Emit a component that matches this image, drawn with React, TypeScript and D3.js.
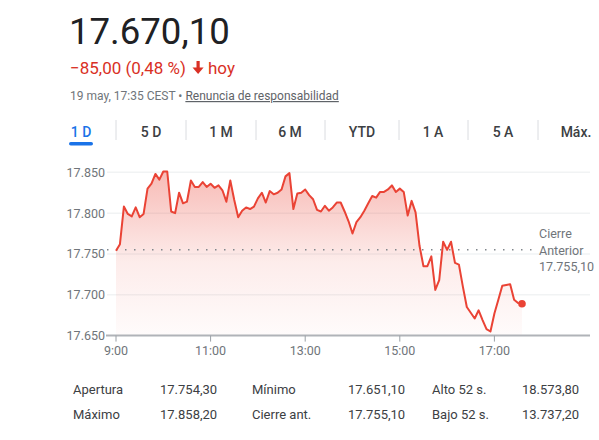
import React from "react";
import * as d3 from "d3";

// ---- data ----
const START_TIME = "2025-05-19T09:00:00";
const STEP_MINUTES = 5;
const prices: number[] = [
  17754, 17762, 17808, 17799, 17796, 17807, 17795, 17799, 17830, 17836,
  17848, 17841, 17851, 17851, 17802, 17800, 17825, 17812, 17814, 17840,
  17832, 17832, 17838, 17832, 17836, 17831, 17834, 17828, 17814, 17840,
  17816, 17795, 17803, 17807, 17805, 17808, 17818, 17825, 17813, 17827,
  17823, 17825, 17829, 17845, 17849, 17805, 17824, 17825, 17829, 17822,
  17817, 17804, 17802, 17809, 17803, 17807, 17813, 17813, 17802, 17790,
  17775, 17789, 17795, 17803, 17812, 17821, 17819, 17826, 17826, 17829,
  17834, 17826, 17830, 17826, 17797, 17815, 17801, 17760, 17735, 17735,
  17747, 17706, 17718, 17765, 17755, 17765, 17739, 17737, 17710, 17685,
  17678, 17671, 17681, 17669, 17658, 17655, 17677, 17694, 17711, 17712,
  17713, 17694, 17690, 17689,
];
const prevClose = 17755.1;
const yTicks = [17650, 17700, 17750, 17800, 17850];
const yTickLabels = ["17.650", "17.700", "17.750", "17.800", "17.850"];
const xTickHours = [9, 11, 13, 15, 17];
const xTickLabels = ["9:00", "11:00", "13:00", "15:00", "17:00"];
const tabs = ["1 D", "5 D", "1 M", "6 M", "YTD", "1 A", "5 A", "Máx."];
const statLabels1 = ["Apertura", "Máximo"];
const statValues1 = ["17.754,30", "17.858,20"];
const statLabels2 = ["Mínimo", "Cierre ant."];
const statValues2 = ["17.651,10", "17.755,10"];
const statLabels3 = ["Alto 52 s.", "Bajo 52 s."];
const statValues3 = ["18.573,80", "13.737,20"];

const FONT = "Roboto, Arial, sans-serif";
const RED = "#ea4335";
const GRAY = "#70757a";

export default function App() {
  const t0 = new Date(START_TIME);
  const data = prices.map((v, i) => ({
    t: new Date(t0.getTime() + i * STEP_MINUTES * 60000),
    v,
  }));
  const dayAt = (h: number) => {
    const d = new Date(t0);
    d.setHours(h, 0, 0, 0);
    return d;
  };
  const x = d3.scaleTime().domain([dayAt(9), dayAt(19)]).range([116, 589]);
  const y = d3.scaleLinear().domain([17650, 17850]).range([335.6, 172.3]);

  const line = d3
    .line<{ t: Date; v: number }>()
    .x((d) => x(d.t))
    .y((d) => y(d.v));
  const area = d3
    .area<{ t: Date; v: number }>()
    .x((d) => x(d.t))
    .y0(y(17650))
    .y1((d) => y(d.v));
  const last = data[data.length - 1];

  const tabCenters = [81, 151, 221, 290, 362, 433, 503, 576];
  const sepX = [116, 186, 256, 325, 399, 468, 538];

  return (
    <svg
      width={599}
      height={440}
      style={{ position: "absolute", left: 0, top: 0, background: "#fff" }}
      fontFamily={FONT}
    >
      <defs>
        <linearGradient id="fillGrad" gradientUnits="userSpaceOnUse" x1={0} y1={172} x2={0} y2={336}>
          <stop offset="0" stopColor={RED} stopOpacity={0.36} />
          <stop offset="0.55" stopColor={RED} stopOpacity={0.1} />
          <stop offset="1" stopColor={RED} stopOpacity={0.02} />
        </linearGradient>
      </defs>

      {/* header */}
      <text x={69} y={44} fontSize={36.6} fill="#202124">17.670,10</text>
      <text x={70} y={73.5} fontSize={17} fill="#d93025">−85,00 (0,48 %)</text>
      <g fill="#d93025">
        <rect x={196.5} y={61} width={3.2} height={8} />
        <path d="M192.5,67.5 L203.6,67.5 L198.1,74 Z" />
      </g>
      <text x={208} y={73.5} fontSize={17} fill="#d93025">hoy</text>
      <text x={70} y={100} fontSize={12} fill={GRAY}>
        19 may, 17:35 CEST •{" "}
        <tspan fill="#5f6368" textDecoration="underline">Renuncia de responsabilidad</tspan>
      </text>

      {/* tabs */}
      {tabs.map((t, i) => (
        <text
          key={t}
          x={tabCenters[i]}
          y={137}
          fontSize={14}
          fontWeight={500}
          textAnchor="middle"
          fill={i === 0 ? "#1a73e8" : "#3c4043"}
        >
          {t}
        </text>
      ))}
      {sepX.map((sx) => (
        <line key={sx} x1={sx} x2={sx} y1={120} y2={140} stroke="#dadce0" strokeWidth={1} />
      ))}
      <rect x={69} y={142} width={24} height={3.5} rx={1.75} fill="#1a73e8" />

      {/* gridlines */}
      {yTicks.slice(1).map((v) => (
        <line key={v} x1={107} x2={590} y1={y(v)} y2={y(v)} stroke="#f1f3f4" strokeWidth={1.5} />
      ))}

      {/* area + line */}
      <path d={area(data) || ""} fill="url(#fillGrad)" />
      <line
        x1={107}
        x2={535}
        y1={y(prevClose)}
        y2={y(prevClose)}
        stroke="#80868b"
        strokeWidth={1.5}
        strokeDasharray="1.5 7.5"
      />
      <path d={line(data) || ""} fill="none" stroke={RED} strokeWidth={2} strokeLinejoin="round" />
      <circle cx={x(last.t)} cy={y(last.v)} r={3.8} fill={RED} />

      {/* previous close label */}
      <text fontSize={12.5} fill={GRAY}>
        <tspan x={539} y={238}>Cierre</tspan>
        <tspan x={539} y={254.5}>Anterior</tspan>
        <tspan x={539} y={271}>17.755,10</tspan>
      </text>

      {/* y labels */}
      {yTicks.map((v, i) => (
        <text key={v} x={105} y={y(v)} dy="0.35em" fontSize={12.5} fill={GRAY} textAnchor="end">
          {yTickLabels[i]}
        </text>
      ))}

      {/* x axis */}
      <line x1={106} x2={590} y1={y(17650)} y2={y(17650)} stroke="#b0b3b8" strokeWidth={2} />
      {xTickHours.map((h, i) => (
        <g key={h}>
          <line x1={x(dayAt(h))} x2={x(dayAt(h))} y1={y(17650)} y2={y(17650) + 6} stroke="#9aa0a6" strokeWidth={1} />
          <text x={x(dayAt(h))} y={354.5} fontSize={12.5} fill={GRAY} textAnchor="middle">
            {xTickLabels[i]}
          </text>
        </g>
      ))}

      {/* stats */}
      {[0, 1].map((r) => (
        <g key={r} fontSize={13} fill="#3c4043">
          <text x={73} y={394 + r * 25}>{statLabels1[r]}</text>
          <text x={160} y={394 + r * 25}>{statValues1[r]}</text>
          <text x={252} y={394 + r * 25}>{statLabels2[r]}</text>
          <text x={348} y={394 + r * 25}>{statValues2[r]}</text>
          <text x={432} y={394 + r * 25}>{statLabels3[r]}</text>
          <text x={522} y={394 + r * 25}>{statValues3[r]}</text>
        </g>
      ))}
    </svg>
  );
}
